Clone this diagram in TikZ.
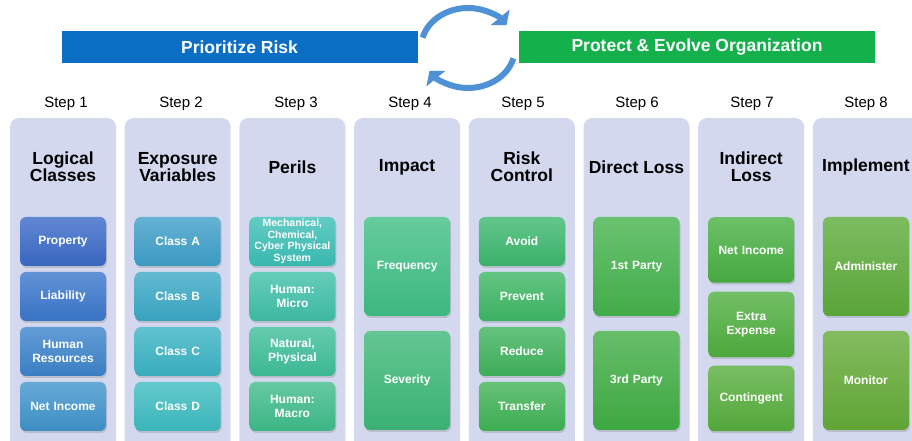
\documentclass[tikz,border=0pt]{standalone}
\usepackage{fontspec}
\setmainfont{Liberation Sans}
\usetikzlibrary{arrows.meta}
\usetikzlibrary{shadows}

\definecolor{colbg}{HTML}{D3D8EE}
\definecolor{barblue}{HTML}{0B6EC5}
\definecolor{bargreen}{HTML}{13B04B}
\definecolor{cycblue}{HTML}{4F91D6}
% box colours, blue to green
\definecolor{bxProp}{HTML}{3A6AC8}
\definecolor{bxLiab}{HTML}{3A77CC}
\definecolor{bxHres}{HTML}{3C84CB}
\definecolor{bxIncA}{HTML}{3F94CC}
\definecolor{bxClA}{HTML}{3E9FC9}
\definecolor{bxClB}{HTML}{3AA9C6}
\definecolor{bxClC}{HTML}{3AB3C4}
\definecolor{bxClD}{HTML}{3CBCC1}
\definecolor{bxMech}{HTML}{3BBFB6}
\definecolor{bxHmic}{HTML}{3FC0A8}
\definecolor{bxNatp}{HTML}{3EBF98}
\definecolor{bxHmac}{HTML}{3FBC8A}
\definecolor{bxFreq}{HTML}{3FBF84}
\definecolor{bxSev}{HTML}{3CB877}
\definecolor{bxAvd}{HTML}{3CB86E}
\definecolor{bxPrv}{HTML}{3DB764}
\definecolor{bxRed}{HTML}{3FB35C}
\definecolor{bxTrf}{HTML}{3FB355}
\definecolor{bxPa}{HTML}{45B34C}
\definecolor{bxPb}{HTML}{40AE43}
\definecolor{bxIncB}{HTML}{48B042}
\definecolor{bxXexp}{HTML}{4FAF3E}
\definecolor{bxCont}{HTML}{56AE3C}
\definecolor{bxAdm}{HTML}{5DAB3A}
\definecolor{bxMon}{HTML}{64AB37}

\tikzset{
  col/.style={fill=colbg, rounded corners=9pt, minimum width=106pt, minimum height=343pt, inner sep=0pt},
  steplbl/.style={font=\fontsize{15}{17}\selectfont},
  head/.style={font=\bfseries\fontsize{17.5}{16.5}\selectfont, align=center},
  bar/.style={minimum width=356pt, minimum height=32pt, text=white, font=\bfseries\fontsize{17.5}{20}\selectfont},
  item/.style={rounded corners=6pt, minimum width=86pt, text width=84pt, inner sep=1pt, align=center,
    text=white, font=\bfseries\fontsize{12}{13.5}\selectfont,
    top color=#1!80!white, bottom color=#1!96!black,
    drop shadow={shadow xshift=1pt, shadow yshift=-2pt, opacity=0.3}},
  quarter/.style={item=#1, minimum height=49pt},
  third/.style={item=#1, minimum height=65.5pt},
  half/.style={item=#1, minimum height=99pt},
  cyc/.style={draw=cycblue, line width=6pt, -{Triangle[length=10pt, width=24pt]}}
}

\begin{document}
\begin{tikzpicture}[x=1pt,y=1pt]
\clip (0,0) rectangle (912,441);
%
\node[bar, fill=barblue] (PR) at (239.5,394) {Prioritize Risk};
\node[bar, fill=bargreen] (PE) at (697,394) {Protect \& Evolve Organization};
%
\coordinate (loop) at (468,393);
\draw[cyc] (loop) ++(165:47 and 40) arc[start angle=165, end angle=35, x radius=47, y radius=40];
\draw[cyc] (loop) ++(-15:47 and 40) arc[start angle=-15, end angle=-145, x radius=47, y radius=40];
%
\node[steplbl] (S1) at (66,337) {Step 1};
\node[steplbl] (S2) at (181,337) {Step 2};
\node[steplbl] (S3) at (296,337) {Step 3};
\node[steplbl] (S4) at (410,337) {Step 4};
\node[steplbl] (S5) at (523,337) {Step 5};
\node[steplbl] (S6) at (637,337) {Step 6};
\node[steplbl] (S7) at (752,337) {Step 7};
\node[steplbl] (S8) at (866,337) {Step 8};
%
\node[col] (C1) at (63,151.5) {};
\node[col] (C2) at (177.7,151.5) {};
\node[col] (C3) at (292.4,151.5) {};
\node[col] (C4) at (407.1,151.5) {};
\node[col] (C5) at (521.8,151.5) {};
\node[col] (C6) at (636.5,151.5) {};
\node[col] (C7) at (751.2,151.5) {};
\node[col] (C8) at (865.9,151.5) {};
%
\node[head] (T1) at (63,274) {Logical\\Classes};
\node[head] (T2) at (177.7,274) {Exposure\\Variables};
\node[head] (T3) at (292.4,274) {Perils};
\node[head] (T4) at (407.1,274) {Impact};
\node[head] (T5) at (521.8,274) {Risk\\Control};
\node[head] (T6) at (636.5,274) {Direct Loss};
\node[head] (T7) at (751.2,274) {Indirect\\Loss};
\node[head] (T8) at (865.9,274) {Implement};
%
% step 1
\node[quarter=bxProp] (prop) at (63,199.5) {Property};
\node[quarter=bxLiab] (liab) at (63,144.5) {Liability};
\node[quarter=bxHres] (hres) at (63,89.5) {Human\\Resources};
\node[quarter=bxIncA] (inc1) at (63,34.5) {Net Income};
% step 2
\node[quarter=bxClA] (clA) at (177.7,199.5) {Class A};
\node[quarter=bxClB] (clB) at (177.7,144.5) {Class B};
\node[quarter=bxClC] (clC) at (177.7,89.5) {Class C};
\node[quarter=bxClD] (clD) at (177.7,34.5) {Class D};
% step 3
\node[quarter=bxMech, font=\bfseries\fontsize{10.5}{11.5}\selectfont] (mech) at (292.4,199.5) {Mechanical,\\Chemical,\\Cyber Physical\\System};
\node[quarter=bxHmic] (hmic) at (292.4,144.5) {Human:\\Micro};
\node[quarter=bxNatp] (natp) at (292.4,89.5) {Natural,\\Physical};
\node[quarter=bxHmac] (hmac) at (292.4,34.5) {Human:\\Macro};
% step 4
\node[half=bxFreq] (freq) at (407.1,174.5) {Frequency};
\node[half=bxSev] (sev) at (407.1,60.5) {Severity};
% step 5
\node[quarter=bxAvd] (avd) at (521.8,199.5) {Avoid};
\node[quarter=bxPrv] (prv) at (521.8,144.5) {Prevent};
\node[quarter=bxRed] (red) at (521.8,89.5) {Reduce};
\node[quarter=bxTrf] (trf) at (521.8,34.5) {Transfer};
% step 6
\node[half=bxPa] (p1) at (636.5,174.5) {1st Party};
\node[half=bxPb] (p3) at (636.5,60.5) {3rd Party};
% step 7
\node[third=bxIncB] (inc7) at (751.2,191) {Net Income};
\node[third=bxXexp] (xexp) at (751.2,116.5) {Extra\\Expense};
\node[third=bxCont] (cont) at (751.2,42.5) {Contingent};
% step 8
\node[half=bxAdm] (adm) at (865.9,174.5) {Administer};
\node[half=bxMon] (mon) at (865.9,60.5) {Monitor};
\end{tikzpicture}
\end{document}
